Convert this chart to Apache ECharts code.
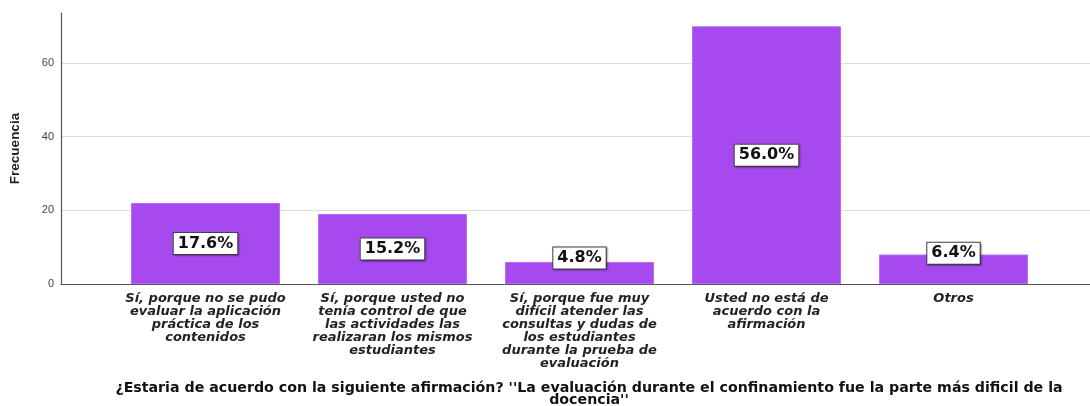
<!DOCTYPE html>
<html>
<head>
<meta charset="utf-8">
<script src="https://cdn.jsdelivr.net/npm/echarts@6/dist/echarts.min.js"></script>
<style>html,body{margin:0;padding:0;background:#fff}#c{width:1090px;height:406px}</style>
</head>
<body>
<div id="c"></div>
<script>
const categories = [
  "Sí, porque no se pudo\nevaluar la aplicación\npráctica de los\ncontenidos",
  "Sí, porque usted no\ntenía control de que\nlas actividades las\nrealizaran los mismos\nestudiantes",
  "Sí, porque fue muy\ndifícil atender las\nconsultas y dudas de\nlos estudiantes\ndurante la prueba de\nevaluación",
  "Usted no está de\nacuerdo con la\nafirmación",
  "Otros"
];
const frequencies = [22, 19, 6, 70, 8];
const percentLabels = ["17.6%", "15.2%", "4.8%", "56.0%", "6.4%"];
const yTicks = [0, 20, 40, 60];
const yAxisName = "Frecuencia";
const xTitle = "¿Estaria de acuerdo con la siguiente afirmación? ''La evaluación durante el confinamiento fue la parte más dificil de la\ndocencia''";

const YMAX = 73.6;
const smallOffsets = [0, 0, -15, 0, -16];
const WIDE = 'DejaVu Sans, Verdana, sans-serif';

const chart = echarts.init(document.getElementById('c'), null, {renderer: 'canvas'});
chart.setOption({
  animation: false,
  backgroundColor: '#fff',
  textStyle: {fontFamily: 'Liberation Sans, Arial, sans-serif'},
  title: {
    text: xTitle,
    left: 584, top: 377,
    textAlign: 'center',
    textStyle: {fontSize: 14.2, fontWeight: 'bold', color: '#111', lineHeight: 12, fontFamily: WIDE}
  },
  grid: [
    {left: 60, right: 0, top: 13, bottom: 122},
    {left: 112, right: 43, top: 13, bottom: 122}
  ],
  xAxis: [
    {gridIndex: 0, type: 'value', min: 0, max: 1,
     axisLine: {show: true, lineStyle: {color: '#555', width: 1.2}},
     axisTick: {show: false}, axisLabel: {show: false}, splitLine: {show: false}},
    {gridIndex: 1, type: 'category', data: categories,
     axisLine: {show: false}, axisTick: {show: false},
     axisLabel: {interval: 0, margin: 8, fontSize: 13, lineHeight: 13, fontFamily: WIDE,
                 fontStyle: 'italic', fontWeight: 'bold', color: '#222', align: 'center'}}
  ],
  yAxis: [
    {gridIndex: 0, type: 'value', min: 0, max: YMAX, interval: 20,
     name: yAxisName, nameLocation: 'middle', nameGap: 39, nameRotate: 90,
     nameTextStyle: {fontSize: 13.5, fontWeight: 'bold', color: '#222'},
     axisLine: {show: true, lineStyle: {color: '#555', width: 1.2}},
     axisTick: {show: false},
     axisLabel: {fontSize: 11, color: '#444', margin: 7,
                 formatter: v => yTicks.includes(v) ? String(v) : ''},
     splitLine: {show: true, lineStyle: {color: ['#dcdcdc','#dcdcdc','#dcdcdc','#dcdcdc','rgba(0,0,0,0)'], width: 1.2}}},
    {gridIndex: 1, type: 'value', min: 0, max: YMAX, show: false, splitLine: {show: false}}
  ],
  series: [{
    type: 'bar',
    xAxisIndex: 1, yAxisIndex: 1,
    barWidth: 149,
    itemStyle: {color: '#a64af0', borderColor: '#b86af5', borderWidth: 1},
    data: frequencies.map((v, i) => ({
      value: v,
      label: {offset: [0, smallOffsets[i]]}
    })),
    label: {
      show: true, position: 'inside',
      formatter: p => percentLabels[p.dataIndex],
      fontSize: 16, fontWeight: 'bold', color: '#111', fontFamily: WIDE,
      backgroundColor: '#fff', borderColor: '#444', borderWidth: 1,
      padding: [3, 4, 2, 4],
      shadowColor: 'rgba(0,0,0,0.3)', shadowBlur: 2, shadowOffsetX: 1, shadowOffsetY: 1
    }
  }]
});
</script>
</body>
</html>
